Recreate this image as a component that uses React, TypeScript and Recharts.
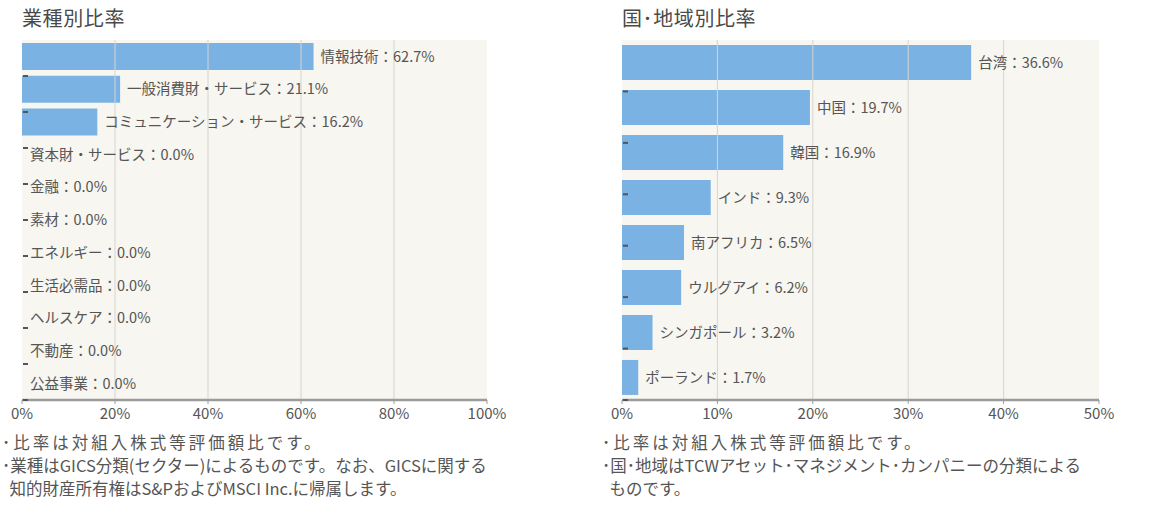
import { BarChart, Bar, XAxis, YAxis, CartesianGrid, ReferenceLine, LabelList } from 'recharts';

const sectorNames = [
  '情報技術',
  '一般消費財・サービス',
  'コミュニケーション・サービス',
  '資本財・サービス',
  '金融',
  '素材',
  'エネルギー',
  '生活必需品',
  'ヘルスケア',
  '不動産',
  '公益事業',
];
const sectorValues = [62.7, 21.1, 16.2, 0, 0, 0, 0, 0, 0, 0, 0];
const sectorTicks = [0, 20, 40, 60, 80, 100];

const countryNames = ['台湾', '中国', '韓国', 'インド', '南アフリカ', 'ウルグアイ', 'シンガポール', 'ポーランド'];
const countryValues = [36.6, 19.7, 16.9, 9.3, 6.5, 6.2, 3.2, 1.7];
const countryTicks = [0, 10, 20, 30, 40, 50];

const FONT = '"Noto Sans CJK JP", "Noto Sans", sans-serif';
const BAR = '#7ab2e4';
const TEXT = '#555';
const FRAME = '#9b9b9b';

const labelText = (name: string, v: number) => `${name}：${v.toFixed(1)}%`;

function Panel({
  title,
  names,
  values,
  ticks,
  gap,
  width,
  plotWidth,
  notes,
}: {
  title: string;
  names: string[];
  values: number[];
  ticks: number[];
  gap: string;
  width: number;
  plotWidth: number;
  notes: string[];
}) {
  const data = names.map((name, i) => ({
    name,
    value: values[i],
    label: labelText(name, values[i]),
  }));
  const max = ticks[ticks.length - 1];
  const dividers = names.slice(1).map((_, i) => i + 1);

  // zero-value rows get no bar rectangle, so their label is drawn as the category tick
  const zeroTick = (props: any) => {
    const i = names.indexOf(props.payload?.value);
    if (i < 0 || values[i] !== 0) return <g />;
    return (
      <text x={props.x} y={props.y} dy="0.36em" fill={TEXT} fontSize={14.5} fontFamily={FONT} textAnchor="start">
        {labelText(names[i], values[i])}
      </text>
    );
  };

  return (
    <div style={{ position: 'relative', width, height: 526 }}>
      <div style={{ position: 'absolute', left: 22, top: 3, fontSize: 20, letterSpacing: 0.6, color: '#4a4a4a' }}>
        {title}
      </div>
      <div style={{ position: 'absolute', left: 0, top: 0 }}>
        <BarChart
          width={width}
          height={440}
          data={data}
          layout="vertical"
          barCategoryGap={gap}
          margin={{ top: 40, left: 22, right: width - 22 - plotWidth, bottom: 10 }}
        >
          <CartesianGrid fill="#f7f6f0" horizontal={false} vertical={false} />
          {ticks.slice(1, -1).map((t) => (
            <ReferenceLine key={t} x={t} stroke="#d6d5cf" strokeWidth={1} />
          ))}
          <XAxis
            type="number"
            domain={[0, max]}
            ticks={ticks}
            tickFormatter={(v) => `${v}%`}
            height={30}
            tick={{ fontSize: 15, fill: TEXT, fontFamily: FONT }}
            axisLine={{ stroke: FRAME, strokeWidth: 2.5 }}
            tickLine={{ stroke: FRAME }}
            tickSize={4}
            tickMargin={4}
            interval={0}
          />
          <XAxis
            xAxisId="top"
            orientation="top"
            type="number"
            domain={[0, max]}
            height={0}
            tick={false}
            tickLine={false}
            axisLine={{ stroke: FRAME, strokeWidth: 2.5 }}
          />
          <YAxis
            yAxisId="div"
            type="number"
            domain={[0, names.length]}
            ticks={dividers}
            interval={0}
            width={1}
            mirror
            axisLine={false}
            tick={() => <g />}
            tickLine={{ stroke: '#555', strokeWidth: 2 }}
            tickSize={5}
            allowDataOverflow
          />
          <YAxis
            type="category"
            dataKey="name"
            width={1}
            mirror
            axisLine={false}
            tickLine={false}
            tickSize={0}
            tickMargin={8}
            interval={0}
            tick={zeroTick}
          />
          <Bar dataKey="value" fill={BAR} isAnimationActive={false}>
            <LabelList
              dataKey="label"
              position="right"
              offset={7}
              fill={TEXT}
              fontSize={14.5}
              fontFamily={FONT}
            />
          </Bar>
        </BarChart>
      </div>
      <div
        style={{
          position: 'absolute',
          left: 2,
          top: 431,
          fontSize: 16.5,
          lineHeight: '23px',
          color: TEXT,
          whiteSpace: 'pre',
        }}
      >
        {notes.map((n, i) => (
          <div key={i} style={{ letterSpacing: i === 0 ? 3 : 0 }}>
            {n}
          </div>
        ))}
      </div>
    </div>
  );
}

export default function App() {
  return (
    <div
      style={{
        position: 'absolute',
        left: 0,
        top: 0,
        width: 1167,
        height: 526,
        background: '#fff',
        fontFamily: FONT,
        display: 'flex',
      }}
    >
      <Panel
        title="業種別比率"
        names={sectorNames}
        values={sectorValues}
        ticks={sectorTicks}
        gap="9%"
        width={520}
        plotWidth={465}
        notes={[
          '･比率は対組入株式等評価額比です。',
          '･業種はGICS分類(セクター)によるものです。なお、GICSに関する',
          '  知的財産所有権はS&PおよびMSCI Inc.に帰属します。',
        ]}
      />
      <div style={{ width: 80 }} />
      <Panel
        title="国･地域別比率"
        names={countryNames}
        values={countryValues}
        ticks={countryTicks}
        gap="11%"
        width={540}
        plotWidth={477}
        notes={[
          '･比率は対組入株式等評価額比です。',
          '･国･地域はTCWアセット･マネジメント･カンパニーの分類による',
          '  ものです。',
        ]}
      />
    </div>
  );
}
